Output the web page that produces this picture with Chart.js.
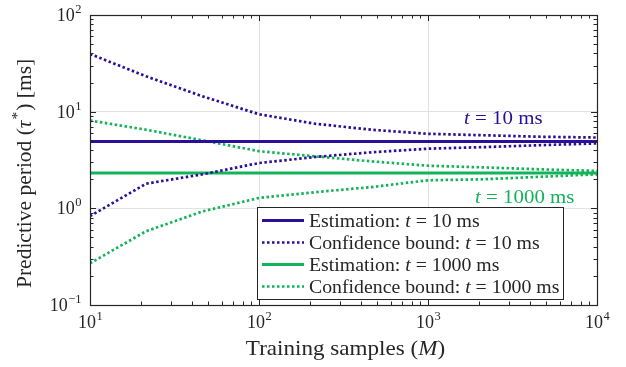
<!DOCTYPE html>
<html>
<head>
<meta charset="utf-8">
<script src="https://cdn.jsdelivr.net/npm/chart.js@4.4.1/dist/chart.umd.min.js"></script>
<style>
  html, body { margin: 0; padding: 0; background: #fff; }
  #wrap { width: 626px; height: 367px; position: relative; }
</style>
</head>
<body>
<div id="wrap"><canvas id="chart"></canvas></div>
<script>
// training samples M (log-spaced)
const samples = [10, 21.5, 46.4, 100, 215, 464, 1000, 2154, 4642, 10000];

// t = 10 ms
const est10 = [4.9, 4.9, 4.9, 4.9, 4.9, 4.9, 4.9, 4.9, 4.9, 4.9];
const upper10 = [39.5, 23.2, 14.4, 9.4, 7.5, 6.5, 5.9, 5.7, 5.5, 5.4];
const lower10 = [0.83, 1.8, 2.25, 2.94, 3.4, 3.8, 4.14, 4.3, 4.5, 4.7];

// t = 1000 ms
const est1000 = [2.32, 2.32, 2.32, 2.32, 2.32, 2.32, 2.32, 2.32, 2.32, 2.32];
const upper1000 = [8.1, 6.5, 5.05, 3.9, 3.45, 3.06, 2.76, 2.65, 2.53, 2.44];
const lower1000 = [0.27, 0.58, 0.93, 1.28, 1.47, 1.66, 1.95, 2.0, 2.12, 2.25];

const xTicks = [10, 100, 1000, 10000];
const yTicks = [0.1, 1, 10, 100];

const legendLabels = [
  [["Estimation: ", false], ["t", true], [" = 10 ms", false]],
  [["Confidence bound: ", false], ["t", true], [" = 10 ms", false]],
  [["Estimation: ", false], ["t", true], [" = 1000 ms", false]],
  [["Confidence bound: ", false], ["t", true], [" = 1000 ms", false]],
];

const BLUE = "#2b0f98";
const GREEN = "#13b35a";
const INK = "#262626";
const FONT = "'Liberation Serif', serif";
const STRETCH = 1.1; // Liberation Serif is narrower than the LaTeX font

const pts = (vals) => samples.map((m, i) => ({ x: m, y: vals[i] }));

const solid = (vals, color) => ({
  data: pts(vals), borderColor: color, borderWidth: 3, pointRadius: 0, tension: 0,
});
const dotted = (vals, color) => ({
  data: pts(vals), borderColor: color, borderWidth: 2.7, borderDash: [2.5, 2.5],
  borderCapStyle: "butt", pointRadius: 0, tension: 0,
});

// legend row -> dataset index
const legendRows = [0, 1, 3, 4];

const setFont = (ctx, size, italic) => {
  ctx.font = (italic ? "italic " : "") + size + "px " + FONT;
};

const richWidth = (ctx, parts, size) =>
  STRETCH * parts.reduce((w, [t, it]) => { setFont(ctx, size, it); return w + ctx.measureText(t).width; }, 0);

const drawRich = (ctx, parts, x, y, size) => {
  ctx.save();
  ctx.translate(x, y);
  ctx.scale(STRETCH, 1);
  let cx = 0;
  parts.forEach(([t, it]) => {
    setFont(ctx, size, it);
    ctx.fillText(t, cx, 0);
    cx += ctx.measureText(t).width;
  });
  ctx.restore();
};

const drawPow = (ctx, v, x, y, align) => {
  const exp = String(Math.round(Math.log10(v))).replace("-", "\u2212");
  setFont(ctx, 18, false);
  const wb = ctx.measureText("10").width;
  setFont(ctx, 12.5, false);
  const we = ctx.measureText(exp).width;
  let x0 = align === "center" ? x - (wb + we) / 2 : x - wb - we;
  setFont(ctx, 18, false);
  ctx.fillText("10", x0, y);
  setFont(ctx, 12.5, false);
  ctx.fillText(exp, x0 + wb + 0.5, y - 8);
};

const decorations = {
  id: "decorations",
  afterDraw(chart) {
    const { ctx, chartArea: a, scales: { x, y } } = chart;
    ctx.save();
    ctx.textAlign = "left";
    ctx.textBaseline = "alphabetic";

    // inward ticks on all four sides
    ctx.strokeStyle = INK;
    ctx.lineWidth = 1;
    ctx.beginPath();
    for (let d = 10; d < 10000; d *= 10) {
      for (let k = 1; k <= 10; k++) {
        const px = Math.round(x.getPixelForValue(d * k)) + 0.5;
        const len = k === 1 || k === 10 ? 6 : 3.5;
        ctx.moveTo(px, a.bottom); ctx.lineTo(px, a.bottom - len);
        ctx.moveTo(px, a.top); ctx.lineTo(px, a.top + len);
      }
    }
    for (let d = 0.1; d < 100; d *= 10) {
      for (let k = 1; k <= 10; k++) {
        const py = Math.round(y.getPixelForValue(d * k)) + 0.5;
        const len = k === 1 || k === 10 ? 6 : 3.5;
        ctx.moveTo(a.left, py); ctx.lineTo(a.left + len, py);
        ctx.moveTo(a.right, py); ctx.lineTo(a.right - len, py);
      }
    }
    ctx.stroke();
    ctx.lineWidth = 1.2;
    ctx.strokeRect(Math.round(a.left) + 0.5, Math.round(a.top) + 0.5,
      Math.round(a.right - a.left), Math.round(a.bottom - a.top));

    // tick labels
    ctx.fillStyle = INK;
    xTicks.forEach((v) => drawPow(ctx, v, x.getPixelForValue(v), a.bottom + 23, "center"));
    yTicks.forEach((v) => drawPow(ctx, v, a.left - 9, y.getPixelForValue(v) + 6, "right"));

    // axis titles
    const xt = [["Training samples (", false], ["M", true], [")", false]];
    const xw = richWidth(ctx, xt, 21);
    drawRich(ctx, xt, (a.left + a.right) / 2 - xw / 2 + 2, 355, 21);

    // y title, rotated; pieces laid out along the rotated baseline
    ctx.save();
    ctx.translate(31, 288);
    ctx.rotate(-Math.PI / 2);
    ctx.scale(STRETCH * 0.93, 1);
    let cx = 0;
    setFont(ctx, 21, false); ctx.fillText("Predictive period (", cx, 0); cx += ctx.measureText("Predictive period (").width;
    setFont(ctx, 21, true); ctx.fillText("\u03c4", cx, 0); cx += ctx.measureText("\u03c4").width + 1;
    setFont(ctx, 15, false); ctx.fillText("*", cx, -9); cx += ctx.measureText("*").width + 1;
    setFont(ctx, 21, false); ctx.fillText(") [ms]", cx, 0);
    ctx.restore();

    // in-plot annotations
    ctx.fillStyle = BLUE;
    drawRich(ctx, [["t", true], [" = 10 ms", false]], 464, 124, 19);
    ctx.fillStyle = GREEN;
    drawRich(ctx, [["t", true], [" = 1000 ms", false]], 475, 203, 19);

    // legend
    const lx = 257.5, ly = 207.5, lw = 306, lh = 92;
    ctx.fillStyle = "#fff";
    ctx.fillRect(lx, ly, lw, lh);
    ctx.strokeStyle = INK;
    ctx.lineWidth = 1;
    ctx.strokeRect(lx, ly, lw, lh);
    legendRows.forEach((di, i) => {
      const ds = chart.data.datasets[di];
      const ry = ly + 13 + i * 22;
      ctx.save();
      ctx.strokeStyle = ds.borderColor;
      ctx.lineWidth = ds.borderWidth;
      ctx.setLineDash(ds.borderDash || []);
      ctx.beginPath();
      ctx.moveTo(262, ry); ctx.lineTo(304, ry);
      ctx.stroke();
      ctx.restore();
      ctx.fillStyle = INK;
      drawRich(ctx, legendLabels[i], 309, ry + 6, 18);
    });

    ctx.restore();
  },
};

new Chart(document.getElementById("chart"), {
  type: "line",
  data: {
    datasets: [
      solid(est10, BLUE),
      dotted(upper10, BLUE),
      dotted(lower10, BLUE),
      solid(est1000, GREEN),
      dotted(upper1000, GREEN),
      dotted(lower1000, GREEN),
    ],
  },
  options: {
    responsive: true,
    maintainAspectRatio: false,
    animation: false,
    layout: { padding: { top: 15, right: 29, left: 0, bottom: 0 } },
    plugins: { legend: { display: false }, tooltip: { enabled: false } },
    scales: {
      x: {
        type: "logarithmic",
        min: 10,
        max: 10000,
        afterBuildTicks: (s) => { s.ticks = xTicks.map((v) => ({ value: v })); },
        afterFit: (s) => { s.height = 62; },
        ticks: { display: false },
        grid: { color: "#e2e2e2", drawTicks: false },
        border: { display: false },
      },
      y: {
        type: "logarithmic",
        min: 0.1,
        max: 100,
        afterBuildTicks: (s) => { s.ticks = yTicks.map((v) => ({ value: v })); },
        afterFit: (s) => { s.width = 90; },
        ticks: { display: false },
        grid: { color: "#e2e2e2", drawTicks: false },
        border: { display: false },
      },
    },
  },
  plugins: [decorations],
});
</script>
</body>
</html>
